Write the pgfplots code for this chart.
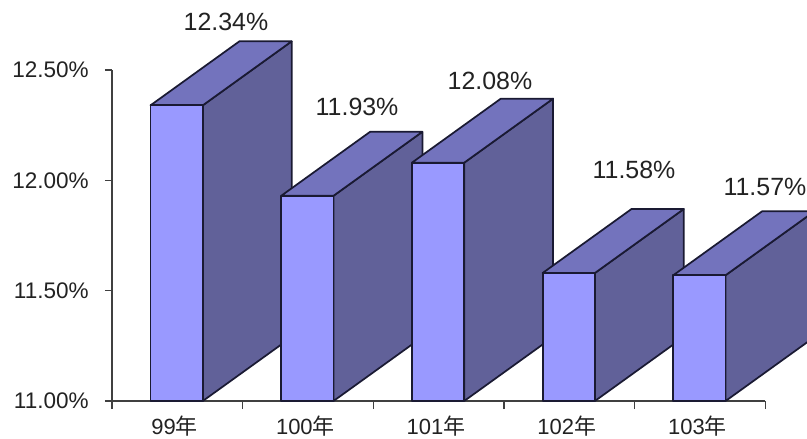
\documentclass[border=0pt]{standalone}
\usepackage{fontspec}
\setmainfont{Liberation Sans}
\newfontfamily\cjk{Noto Sans CJK TC}
\usepackage{pgfplots}
\pgfplotsset{compat=1.18}
\definecolor{frontc}{HTML}{9999FF}
\definecolor{sidec}{HTML}{616199}
\definecolor{topc}{HTML}{7373BD}
\definecolor{linec}{HTML}{1A1A33}
\definecolor{txt}{HTML}{222222}
\pgfplotsset{
  front/.style={draw=linec, line width=1.3pt, fill=frontc, mark=none, line join=round},
  side/.style={draw=linec, line width=1.3pt, fill=sidec, mark=none, line join=round},
  roof/.style={draw=linec, line width=1.3pt, fill=topc, mark=none, line join=round},
}
\begin{document}
\begin{tikzpicture}
\path[use as bounding box, clip] (-84pt,-28.5pt) rectangle (521.25pt,300.75pt);
\begin{axis}[
  at={(0,0)}, anchor=south west,
  scale only axis, width=490.1pt, height=248.25pt,
  xmin=-0.5, xmax=4.5, ymin=11, ymax=12.5,
  clip=false,
  axis x line=bottom, axis y line=left,
  axis line style={-, draw=black!75, line width=0.9pt},
  tick style={draw=black!75, line width=0.9pt},
  xtick={0,1,2,3,4},
  xticklabels={99{\cjk 年},100{\cjk 年},101{\cjk 年},102{\cjk 年},103{\cjk 年}},
  minor xtick={-0.5,0.5,1.5,2.5,3.5,4.5},
  major tick length=5.25pt,
  minor tick length=6pt,
  major x tick style={draw=none},
  ytick={11,11.5,12,12.5},
  yticklabels={11.00\%,11.50\%,12.00\%,12.50\%},
  tick align=outside,
  tick label style={font=\fontsize{16.9}{20}\selectfont, text=txt},
  yticklabel style={inner sep=0pt, xshift=-12pt},
  xticklabel style={font=\fontsize{16.5}{20}\selectfont, inner sep=0pt, yshift=-5.5pt, xshift=-2pt},
]
% 99
\addplot[side] coordinates {(0.195,11) (0.875,11.29) (0.875,12.63) (0.195,12.34)} -- cycle;
\addplot[roof] coordinates {(-0.205,12.34) (0.475,12.63) (0.875,12.63) (0.195,12.34)} -- cycle;
\addplot[front] coordinates {(-0.205,11) (0.195,11) (0.195,12.34) (-0.205,12.34)} -- cycle;
% 100
\addplot[side] coordinates {(1.195,11) (1.875,11.29) (1.875,12.22) (1.195,11.93)} -- cycle;
\addplot[roof] coordinates {(0.795,11.93) (1.475,12.22) (1.875,12.22) (1.195,11.93)} -- cycle;
\addplot[front] coordinates {(0.795,11) (1.195,11) (1.195,11.93) (0.795,11.93)} -- cycle;
% 101
\addplot[side] coordinates {(2.195,11) (2.875,11.29) (2.875,12.37) (2.195,12.08)} -- cycle;
\addplot[roof] coordinates {(1.795,12.08) (2.475,12.37) (2.875,12.37) (2.195,12.08)} -- cycle;
\addplot[front] coordinates {(1.795,11) (2.195,11) (2.195,12.08) (1.795,12.08)} -- cycle;
% 102
\addplot[side] coordinates {(3.195,11) (3.875,11.29) (3.875,11.87) (3.195,11.58)} -- cycle;
\addplot[roof] coordinates {(2.795,11.58) (3.475,11.87) (3.875,11.87) (3.195,11.58)} -- cycle;
\addplot[front] coordinates {(2.795,11) (3.195,11) (3.195,11.58) (2.795,11.58)} -- cycle;
% 103
\addplot[side] coordinates {(4.195,11) (4.875,11.29) (4.875,11.86) (4.195,11.57)} -- cycle;
\addplot[roof] coordinates {(3.795,11.57) (4.475,11.86) (4.875,11.86) (4.195,11.57)} -- cycle;
\addplot[front] coordinates {(3.795,11) (4.195,11) (4.195,11.57) (3.795,11.57)} -- cycle;
% value labels
\begin{scope}[every node/.style={font=\fontsize{18.7}{22}\selectfont, text=txt, inner sep=0pt}]
\node at (axis cs:0.372,12.717) {12.34\%};
\node at (axis cs:1.375,12.332) {11.93\%};
\node at (axis cs:2.392,12.45) {12.08\%};
\node at (axis cs:3.494,12.047) {11.58\%};
\node at (axis cs:4.496,11.97) {11.57\%};
\end{scope}
\end{axis}
\end{tikzpicture}
\end{document}
